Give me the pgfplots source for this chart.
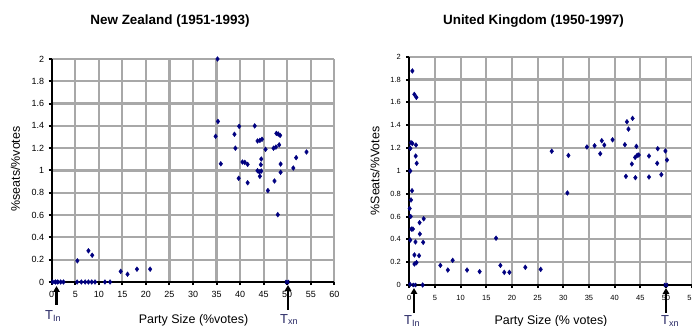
\documentclass[border=0pt]{standalone}
\usepackage{pgfplots}
\pgfplotsset{compat=1.18}
\usepackage{fontspec}
\setmainfont{Liberation Sans}
\usetikzlibrary{arrows.meta}
\definecolor{navy}{RGB}{0,0,128}
\definecolor{gridgray}{RGB}{168,168,168}
\definecolor{tcol}{RGB}{40,40,100}

\pgfplotsset{
  excelstyle/.style={
    scale only axis, anchor=south west, clip=false,
    axis x line*=bottom, axis y line*=left,
    axis line style={-, draw=black, line width=2.2bp},
    x axis line style={-}, y axis line style={-},
    xmajorgrids=true, ymajorgrids=true,
    major grid style={draw=gridgray, line width=2.2bp},
    tick align=outside, major tick length=3bp, major tick style={draw=black, line width=2bp},
    ymin=0, ymax=2, ytick={0,0.2,0.4,0.6,0.8,1,1.2,1.4,1.6,1.8,2},
    /pgf/number format/assume math mode=true,
  },
}

\begin{document}
\begin{tikzpicture}
\path[use as bounding box] (0,0) rectangle (692bp,326bp);

% ---------------- New Zealand ----------------
\begin{axis}[excelstyle, at={(51.7bp,44bp)}, width=282.6bp, height=223bp,
  xmin=0, xmax=60, xtick={0,5,...,60},
  xticklabel style={font=\fontsize{9}{10}\selectfont, yshift=-3bp},
  yticklabel style={font=\fontsize{9}{10}\selectfont, xshift=-1bp}]
\addplot[only marks, mark=diamond*, mark size=2.4bp, navy] table {
x y
0.2 0.0
0.8 0.0
1.3 0.0
1.9 0.0
2.5 0.0
5.4 0.0
6.3 0.0
7.1 0.0
7.8 0.0
8.5 0.0
9.2 0.0
11.3 0.0
12.4 0.0
5.45 0.19
7.8 0.28
8.6 0.24
14.65 0.095
16.1 0.07
18.1 0.115
20.9 0.115
35.2 2.0
35.3 1.44
34.8 1.307
39.8 1.396
43.1 1.40
38.8 1.325
47.7 1.333
48.5 1.315
48.1 1.327
44.2 1.27
43.7 1.265
44.65 1.28
39.0 1.20
45.4 1.19
47.1 1.20
47.6 1.21
48.3 1.23
35.9 1.06
40.5 1.076
41.0 1.073
41.6 1.055
44.5 1.103
44.4 1.052
48.6 1.058
51.9 1.115
54.1 1.166
43.7 0.998
44.5 0.995
44.1 0.987
48.6 0.984
51.3 1.022
39.7 0.93
41.6 0.89
44.2 0.948
47.3 0.906
45.9 0.82
48.0 0.604
};
\addplot[only marks, mark=x, mark size=2.5bp, navy, line width=1.8bp] coordinates {(1,0) (50,0)};
\end{axis}

% ---------------- United Kingdom ----------------
\begin{axis}[excelstyle, at={(409.3bp,41bp)}, width=282.3bp, height=228.3bp,
  xmin=0, xmax=55, xtick={0,5,...,55},
  xticklabel style={font=\fontsize{7.5}{8}\selectfont, yshift=-4bp},
  yticklabel style={font=\fontsize{7.5}{8}\selectfont, xshift=-2bp}]
\addplot[only marks, mark=diamond*, mark size=2.4bp, navy] table {
x y
0.6 1.875
0.98 1.67
1.37 1.644
0.33 1.247
0.6 1.24
0.2 1.197
1.3 1.226
1.24 1.13
1.44 1.066
0.2 0.999
0.53 0.826
0.33 0.745
0.07 0.67
0.27 0.60
0.4 0.49
0.7 0.49
0.2 0.394
1.2 0.377
1.0 0.263
1.9 0.257
1.0 0.184
1.4 0.196
2.0 0.546
2.8 0.58
2.05 0.447
2.7 0.374
0.15 0.005
2.6 0.0
6.05 0.172
7.5 0.131
8.45 0.216
11.25 0.131
13.7 0.117
16.9 0.41
17.75 0.172
18.5 0.111
19.5 0.111
22.6 0.155
25.6 0.137
27.75 1.172
31.0 1.135
30.8 0.806
34.6 1.209
36.1 1.22
37.5 1.264
38.0 1.226
37.2 1.15
39.6 1.272
42.0 1.229
42.4 1.43
43.5 1.46
42.7 1.366
44.25 1.215
44.4 1.136
44.0 1.118
43.35 1.06
44.7 1.139
46.7 1.13
48.4 1.194
49.9 1.174
50.2 1.095
48.3 1.066
42.2 0.952
44.05 0.94
46.7 0.946
49.1 0.967
};
\addplot[only marks, mark=x, mark size=2.5bp, navy, line width=1.8bp] coordinates {(1,0) (50,0)};
\end{axis}

% titles
\node[font=\bfseries\fontsize{13.5}{15}\selectfont] at (170bp,305bp) {New Zealand (1951-1993)};
\node[font=\bfseries\fontsize{13.5}{15}\selectfont] at (533.5bp,305bp) {United Kingdom (1950-1997)};

% axis labels
\node[font=\fontsize{12.5}{14}\selectfont, anchor=base] at (193.5bp,2.5bp) {Party Size (\%votes)};
\node[font=\fontsize{12.5}{14}\selectfont, anchor=base] at (551bp,2bp) {Party Size (\% votes)};
\node[font=\fontsize{12.5}{14}\selectfont, rotate=90] at (15.5bp,157bp) {\%seats/\%votes};
\node[font=\fontsize{12.5}{14}\selectfont, rotate=90] at (375bp,155bp) {\%Seats/\%Votes};

% threshold annotations
\draw[line width=2.2bp, -{Triangle[width=6.5bp,length=6bp]}] (56.5bp,21bp) -- (56.5bp,40bp);
\draw[line width=2.2bp, -{Triangle[width=6.5bp,length=6bp]}] (288bp,16bp) -- (288bp,41bp);
\draw[line width=2.2bp, -{Triangle[width=6.5bp,length=6bp]}] (414bp,13bp) -- (414bp,38bp);
\draw[line width=2.2bp, -{Triangle[width=6.5bp,length=6bp]}] (666bp,13bp) -- (666bp,38bp);
\node[anchor=base west, inner sep=0, text=tcol, font=\fontsize{13}{14}\selectfont] at (45bp,7bp) {T\textsubscript{In}};
\node[anchor=base west, inner sep=0, text=tcol, font=\fontsize{13}{14}\selectfont] at (280bp,3bp) {T\textsubscript{xn}};
\node[anchor=base west, inner sep=0, text=tcol, font=\fontsize{13}{14}\selectfont] at (404bp,1.5bp) {T\textsubscript{In}};
\node[anchor=base west, inner sep=0, text=tcol, font=\fontsize{13}{14}\selectfont] at (661bp,1.5bp) {T\textsubscript{xn}};
\end{tikzpicture}
\end{document}
